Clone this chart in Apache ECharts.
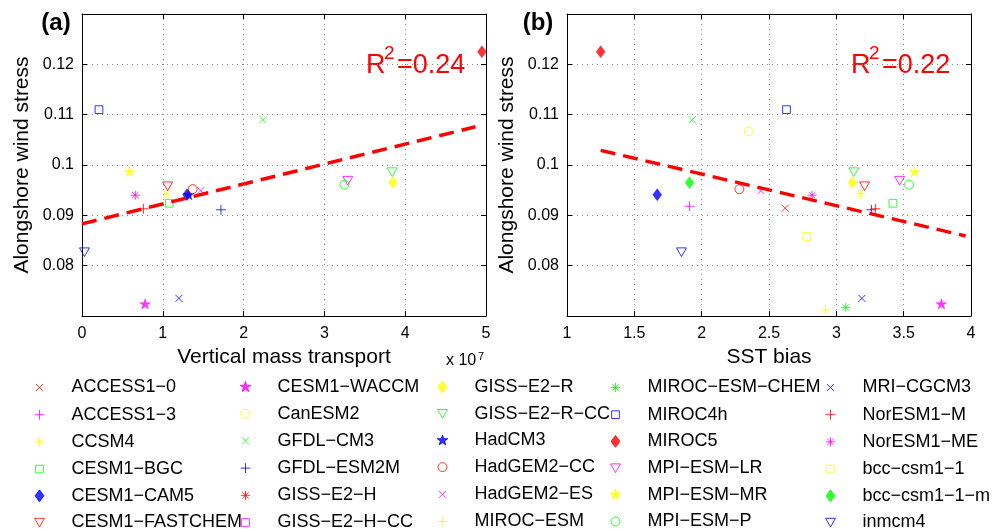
<!DOCTYPE html>
<html><head><meta charset="utf-8">
<script src="https://cdn.jsdelivr.net/npm/echarts@6/dist/echarts.min.js"></script>
<style>html,body{margin:0;padding:0;background:#fff}#c{width:1003px;height:531px}</style>
</head><body><div id="c"></div>
<script>
// ---------------- data ----------------
const models = ['ACCESS1-0','ACCESS1-3','CCSM4','CESM1-BGC','CESM1-CAM5','CESM1-FASTCHEM',
  'CESM1-WACCM','CanESM2','GFDL-CM3','GFDL-ESM2M','GISS-E2-H','GISS-E2-H-CC',
  'GISS-E2-R','GISS-E2-R-CC','HadCM3','HadGEM2-CC','HadGEM2-ES','MIROC-ESM',
  'MIROC-ESM-CHEM','MIROC4h','MIROC5','MPI-ESM-LR','MPI-ESM-MR','MPI-ESM-P',
  'MRI-CGCM3','NorESM1-M','NorESM1-ME','bcc-csm1-1','bcc-csm1-1-m','inmcm4'];
// alongshore wind stress (same for both panels)
const windStress = [0.0914,0.0918,0.0943,0.0924,0.0941,0.0958,
  0.0723,0.1067,0.1090,0.0911,null,null,
  0.0965,0.0986,0.0940,0.0952,0.0949,0.0712,
  0.0717,0.1110,0.1225,0.0969,0.0986,0.0961,
  0.0735,0.0913,0.0940,0.0858,0.0965,0.0827];
// vertical mass transport (x 10^7)
const massTransport = [null,null,1.05,1.08,1.30,1.06,
  0.78,null,2.24,1.72,null,null,
  3.85,3.84,1.32,1.37,1.47,null,
  null,0.21,4.95,3.29,0.59,3.25,
  1.20,0.76,0.66,null,null,0.03];
// SST bias
const sstBias = [2.62,1.91,3.18,3.42,1.67,3.21,
  3.78,2.35,1.93,3.26,null,null,
  3.12,3.13,null,2.28,2.44,2.92,
  3.07,2.63,1.25,3.47,3.58,3.54,
  3.19,3.29,2.82,2.78,1.91,1.85];
// regression lines (end points)
const fitA_x = [0, 4.87], fitA_y = [0.0883, 0.1076];
const fitB_x = [1.25, 3.96], fitB_y = [0.1029, 0.0859];
const r2Labels = ['0.24', '0.22'];
const xTicksA = {min:0, max:5, interval:1};
const xTicksB = {min:1, max:4, interval:0.5};
const yTicks = {min:0.07, max:0.13, interval:0.01};

// ---------------- styles ----------------
const markerKeys = ['x','+','*','s','d','v','p','o'];
const colorKeys = ['#ff0000','#ff00ff','#ffff00','#00ff00','#0000ff'];
const PAD = 'M0,0M20,20';
const shapes = {
  'x': 'M5,5L15,15M15,5L5,15',
  '+': 'M10,3L10,17M3,10L17,10',
  '*': 'M10,3.5L10,16.5M3.5,10L16.5,10M5.4,5.4L14.6,14.6M14.6,5.4L5.4,14.6',
  's': 'M4.5,4.5L15.5,4.5L15.5,15.5L4.5,15.5Z',
  'd': 'M10,1.5L16.3,10L10,18.5L3.7,10Z',
  'v': 'M2.9,4L17.1,4L10,16.4Z',
  'p': 'M10,2L11.8,7.53L17.61,7.53L12.91,10.94L14.7,16.47L10,13.06L5.3,16.47L7.09,10.94L2.39,7.53L8.2,7.53Z',
  'o': 'M16.4,10A6.4,6.4,0,1,1,3.6,10A6.4,6.4,0,1,1,16.4,10Z'
};
const FONT = '"Liberation Sans", Arial, Helvetica, sans-serif';

const series = [];
models.forEach((name, i) => {
  const mk = markerKeys[i % 8];
  const col = colorKeys[i % 5];
  const filled = (mk === 'd' || mk === 'p');
  const itemStyle = filled ? {color: col, borderColor: col, borderWidth: 0.5}
                           : {color: 'none', borderColor: col, borderWidth: 1};
  const base = {type: 'scatter', name, symbol: 'path://' + PAD + shapes[mk], symbolSize: 14,
    itemStyle, emphasis: {disabled: true}, silent: true, z: 2};
  const y = windStress[i];
  series.push(Object.assign({}, base, {xAxisIndex: 0, yAxisIndex: 0,
    data: (massTransport[i] != null && y != null) ? [[massTransport[i], y]] : []}));
  series.push(Object.assign({}, base, {xAxisIndex: 2, yAxisIndex: 2,
    data: (sstBias[i] != null && y != null) ? [[sstBias[i], y]] : []}));
});
const fitStyle = {color: '#ff0000', width: 3.5, type: [15, 8], cap: 'butt'};
series.push({type: 'line', name: 'fitA', xAxisIndex: 0, yAxisIndex: 0, symbol: 'none',
  data: fitA_x.map((x, k) => [x, fitA_y[k]]), lineStyle: fitStyle, silent: true, z: 3});
series.push({type: 'line', name: 'fitB', xAxisIndex: 2, yAxisIndex: 2, symbol: 'none',
  data: fitB_x.map((x, k) => [x, fitB_y[k]]), lineStyle: fitStyle, silent: true, z: 3});

// ---------------- axes ----------------
const axLine = {show: true, onZero: false, lineStyle: {color: '#000', width: 1}};
const axTick = {show: true, inside: true, length: 5, lineStyle: {color: '#000', width: 1}};
const split = {show: true, lineStyle: {color: '#8a8a8a', width: 1, type: [1, 4]}};
function xAx(g, t, pos, name) {
  return Object.assign({gridIndex: g, type: 'value', position: pos, axisLine: axLine, axisTick: axTick,
    axisLabel: pos === 'bottom' ? {show: true, fontSize: 16, color: '#000', margin: 10, fontFamily: FONT} : {show: false},
    splitLine: pos === 'bottom' ? split : {show: false},
    name: name || '', nameLocation: 'middle', nameGap: 28,
    nameTextStyle: {fontSize: 21, color: '#000', fontFamily: FONT}}, t);
}
function yAx(g, pos) {
  return Object.assign({gridIndex: g, type: 'value', position: pos, axisLine: axLine, axisTick: axTick,
    axisLabel: pos === 'left' ? {show: true, fontSize: 16, color: '#000', margin: 8, fontFamily: FONT,
      showMinLabel: false, showMaxLabel: false, formatter: v => String(+v.toFixed(2))} : {show: false},
    splitLine: pos === 'left' ? split : {show: false},
    name: pos === 'left' ? 'Alongshore wind stress' : '', nameLocation: 'middle', nameGap: 49,
    nameTextStyle: {fontSize: 21, color: '#000', fontFamily: FONT}}, yTicks);
}

// ---------------- legend ----------------
const legendLefts = [30, 236, 433, 606, 821];
const legends = legendLefts.map((l, c) => ({
  orient: 'vertical', left: l, top: 378, height: 200, width: 190, itemWidth: 14, itemHeight: 14, itemGap: 8.2,
  symbolKeepAspect: true, selectedMode: false, padding: 0,
  data: models.slice(c * 6, c * 6 + 6),
  itemStyle: {borderWidth: 1},
  formatter: n => n.replace(/-/g, '\u2212'),
  textStyle: {fontSize: 18, color: '#000', fontFamily: FONT, lineHeight: 18, padding: [0, 0, 0, 20]}
}));

// ---------------- annotations ----------------
function txt(x, y, s, size, extra) {
  return {type: 'text', x, y, silent: true, style: Object.assign({text: s, fontSize: size, fill: '#000',
    fontFamily: FONT, textAlign: 'left', textVerticalAlign: 'top'}, extra || {})};
}
const graphics = [
  txt(56, 23, '(a)', 24, {fontWeight: 'bold', textAlign: 'center', textVerticalAlign: 'middle'}),
  txt(538, 23, '(b)', 24, {fontWeight: 'bold', textAlign: 'center', textVerticalAlign: 'middle'}),
  txt(366, 52.5, 'R', 27, {fill: '#ff0000'}),
  txt(384, 44, '2', 19, {fill: '#ff0000'}),
  txt(397, 52.5, '=' + r2Labels[0], 27, {fill: '#ff0000'}),
  txt(851, 52.5, 'R', 27, {fill: '#ff0000'}),
  txt(869, 44, '2', 19, {fill: '#ff0000'}),
  txt(882, 52.5, '=' + r2Labels[1], 27, {fill: '#ff0000'}),
  txt(446, 353, 'x 10', 16),
  txt(478, 351, '7', 11)
];

const option = {
  animation: false,
  backgroundColor: '#fff',
  textStyle: {fontFamily: FONT},
  grid: [{left: 82, top: 14, width: 404, height: 302}, {left: 567, top: 14, width: 404, height: 302}],
  xAxis: [xAx(0, xTicksA, 'bottom', 'Vertical mass transport'), xAx(0, xTicksA, 'top'),
          xAx(1, xTicksB, 'bottom', 'SST bias'), xAx(1, xTicksB, 'top')],
  yAxis: [yAx(0, 'left'), yAx(0, 'right'), yAx(1, 'left'), yAx(1, 'right')],
  legend: legends,
  graphic: graphics,
  series
};
const chart = echarts.init(document.getElementById('c'), null, {renderer: 'canvas'});
chart.setOption(option);
</script></body></html>
